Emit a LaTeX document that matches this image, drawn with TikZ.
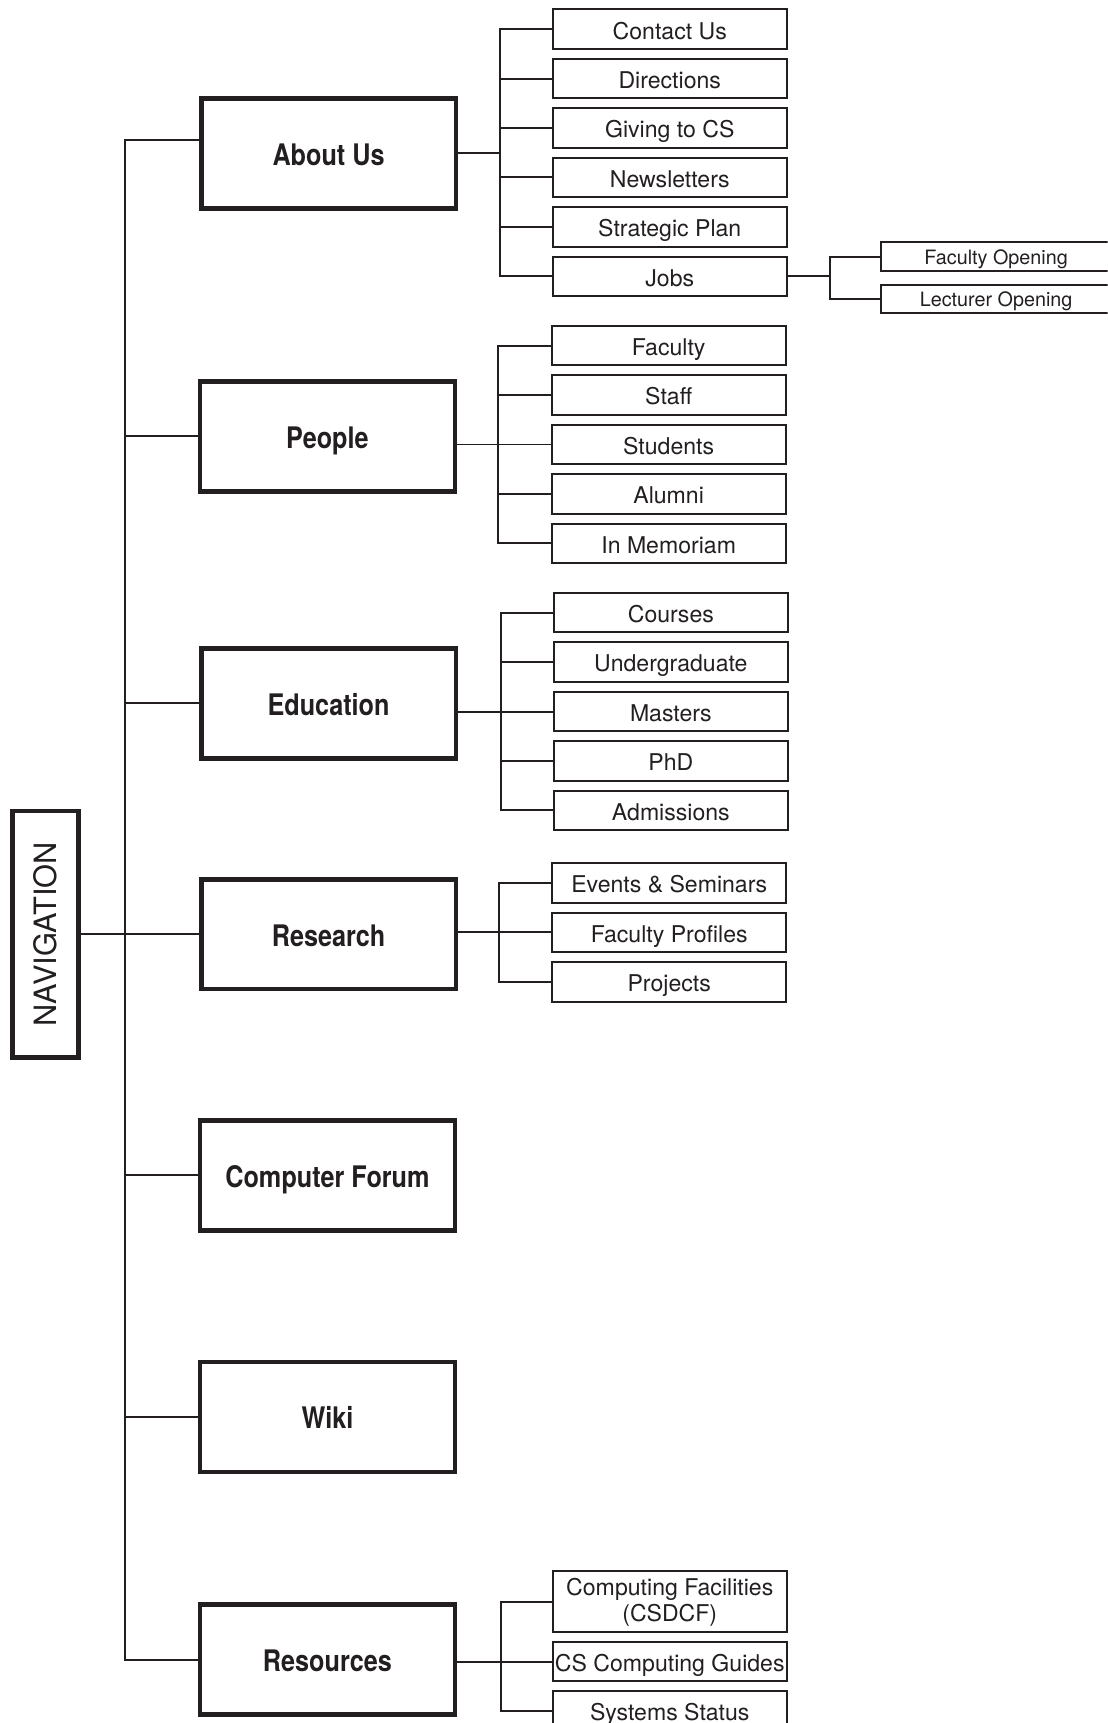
\documentclass[tikz,border=0pt]{standalone}
\usepackage{fontspec}
\setmainfont{TeX Gyre Heros}
\newfontfamily\condfont[FakeStretch=0.85]{TeX Gyre Heros}
\usetikzlibrary{positioning, calc}
\definecolor{ink}{RGB}{35,31,32}
\tikzset{
    sectionbox/.style={rectangle, draw=ink, line width=2.2pt, minimum width=116pt, minimum height=50pt, text=ink, text height=10.9pt, text depth=0pt, font=\condfont\bfseries\fontsize{13.5}{16}\selectfont},
    pagebox/.style={rectangle, draw=ink, line width=0.9pt, minimum width=106.5pt, minimum height=18pt, inner xsep=0pt, inner ysep=1pt, text=ink, text height=11pt, text depth=2pt, font=\fontsize{10.5}{12}\selectfont, align=center},
    openingbox/.style={pagebox, minimum width=104.6pt, minimum height=12.9pt, text height=9pt, font=\fontsize{9}{10.5}\selectfont},
    link/.style={line width=0.9pt, ink},
}

\begin{document}
\begin{tikzpicture}[x=0.5pt, y=-0.5pt, node distance=3.6pt]
\useasboundingbox (0,0) rectangle (1008,1568);
\clip (0,0) rectangle (1008,1568);

% Root
\node[draw=ink, line width=2.2pt, rotate=90, minimum width=112pt, minimum height=30.3pt, text=ink, font=\fontsize{14}{16}\selectfont] (nav) at (41.5,850) {NAVIGATION};

% Top level sections
\node[sectionbox] (about) at (299,139.5) {About Us};
\node[sectionbox] (people) at (298,397) {People};
\node[sectionbox] (education) at (299,640) {Education};
\node[sectionbox] (research) at (299,850) {Research};
\node[sectionbox] (forum) at (298,1069.5) {Computer Forum};
\node[sectionbox] (wiki) at (298,1289.5) {Wiki};
\node[sectionbox] (resources) at (298,1510.5) {Resources};

% About Us pages
\node[pagebox] (contact) at (609.5,26.5) {Contact Us};
\node[pagebox, below=of contact] (directions) {Directions};
\node[pagebox, below=of directions] (giving) {Giving to CS};
\node[pagebox, below=of giving] (news) {Newsletters};
\node[pagebox, below=of news] (strategic) {Strategic Plan};
\node[pagebox, below=of strategic] (jobs) {Jobs};

% Jobs pages
\node[openingbox] (facopen) at (906.5,233.5) {Faculty Opening};
\node[openingbox, below=5.4pt of facopen] (lecopen) {Lecturer Opening};

% People pages
\node[pagebox] (faculty) at (608.5,314.5) {Faculty};
\node[pagebox, below=of faculty] (staff) {Staff};
\node[pagebox, below=of staff] (students) {Students};
\node[pagebox, below=of students] (alumni) {Alumni};
\node[pagebox, below=of alumni] (memoriam) {In Memoriam};

% Education pages
\node[pagebox] (courses) at (610.5,557.5) {Courses};
\node[pagebox, below=of courses] (undergrad) {Undergraduate};
\node[pagebox, below=of undergrad] (masters) {Masters};
\node[pagebox, below=of masters] (phd) {PhD};
\node[pagebox, below=of phd] (admissions) {Admissions};

% Research pages
\node[pagebox] (events) at (609,803.5) {Events \& Seminars};
\node[pagebox, below=of events] (fprofiles) {Faculty Profiles};
\node[pagebox, below=of fprofiles] (projects) {Projects};

% Resources pages
\node[pagebox, minimum height=27.6pt, text height=18pt, text depth=0pt] (csdcf) at (609.5,1457.5) {Computing Facilities\\(CSDCF)};
\node[pagebox, below=of csdcf] (guides) {CS Computing Guides};
\node[pagebox, below=of guides] (systems) {Systems Status};

% Spine from the root to every section
\coordinate (spine) at (114,850);
\draw[link] ([yshift=6pt]about.west) -| (spine |- resources.west) -- (resources.west);
\draw[link] (people.west) -- (people.west -| spine);
\draw[link] (education.west) -- (education.west -| spine);
\draw[link] (nav) -- (research);
\draw[link] (forum.west) -- (forum.west -| spine);
\draw[link] (wiki.west) -- (wiki.west -| spine);

% About Us branch
\coordinate (aboutbus) at (455,139.5);
\draw[link] (about.east) -- (aboutbus);
\draw[link] (contact.west) -| (aboutbus) |- (jobs.west);
\draw[link] (directions.west) -- (directions.west -| aboutbus);
\draw[link] (giving.west) -- (giving.west -| aboutbus);
\draw[link] (news.west) -- (news.west -| aboutbus);
\draw[link] (strategic.west) -- (strategic.west -| aboutbus);

\coordinate (jobsbus) at ($(jobs.east)+(38,0)$);
\draw[link] (jobs.east) -- (jobsbus);
\draw[link] (facopen.west) -| (jobsbus) |- (lecopen.west);

% People branch
\coordinate (peoplebus) at (453,404.5);
\draw[link] (people.east |- students.west) -- (students.west);
\draw[link] (faculty.west) -| (peoplebus) |- (memoriam.west);
\draw[link] (staff.west) -- (staff.west -| peoplebus);
\draw[link] (alumni.west) -- (alumni.west -| peoplebus);

% Education branch
\coordinate (edubus) at (456,647.5);
\draw[link] (education.east |- masters.west) -- (masters.west);
\draw[link] (courses.west) -| (edubus) |- (admissions.west);
\draw[link] (undergrad.west) -- (undergrad.west -| edubus);
\draw[link] (phd.west) -- (phd.west -| edubus);

% Research branch
\coordinate (resbus) at (454,848.5);
\draw[link] (research.east |- fprofiles.west) -- (fprofiles.west);
\draw[link] (events.west) -| (resbus) |- (projects.west);

% Resources branch
\coordinate (srcbus) at (456,1512);
\draw[link] (resources.east |- guides.west) -- (guides.west);
\draw[link] (csdcf.west) -| (srcbus) |- (systems.west);

\end{tikzpicture}
\end{document}
